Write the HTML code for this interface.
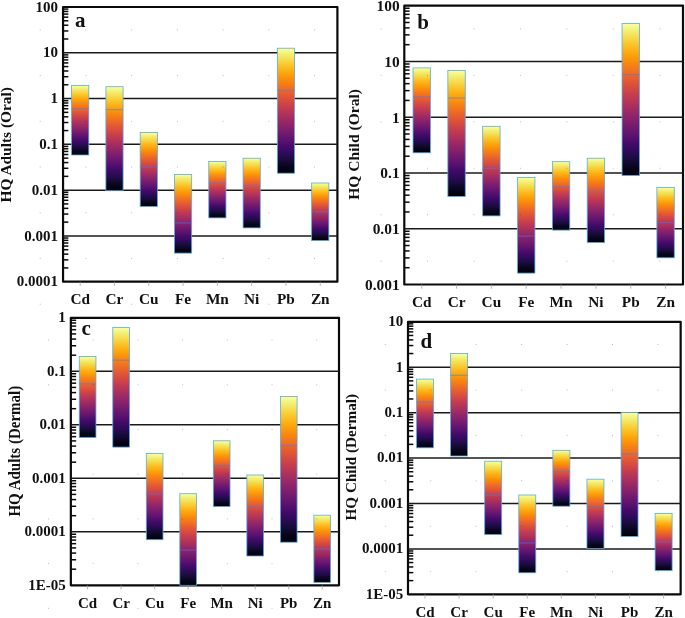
<!DOCTYPE html>
<html><head><meta charset="utf-8"><title>HQ charts</title>
<style>html,body{margin:0;padding:0;background:#fff}svg{display:block;filter:blur(0.38px)}text{font-family:"Liberation Serif","Times New Roman",serif;font-weight:bold;fill:#111}</style></head><body>
<svg width="685" height="618" viewBox="0 0 685 618">
<defs><linearGradient id="inf" x1="0" y1="0" x2="0" y2="1">
<stop offset="0.0000" stop-color="#fcffa4"/>
<stop offset="0.0526" stop-color="#f1ed71"/>
<stop offset="0.1053" stop-color="#f6d543"/>
<stop offset="0.1579" stop-color="#fbba1f"/>
<stop offset="0.2105" stop-color="#fca108"/>
<stop offset="0.2632" stop-color="#f8870e"/>
<stop offset="0.3158" stop-color="#f1711f"/>
<stop offset="0.3684" stop-color="#e55c30"/>
<stop offset="0.4211" stop-color="#d74b3f"/>
<stop offset="0.4737" stop-color="#c43c4e"/>
<stop offset="0.5263" stop-color="#b1325a"/>
<stop offset="0.5789" stop-color="#9b2964"/>
<stop offset="0.6316" stop-color="#87216b"/>
<stop offset="0.6842" stop-color="#71196e"/>
<stop offset="0.7368" stop-color="#5c126e"/>
<stop offset="0.7895" stop-color="#450a69"/>
<stop offset="0.8421" stop-color="#2f0a5b"/>
<stop offset="0.8947" stop-color="#180c3c"/>
<stop offset="0.9474" stop-color="#08051d"/>
<stop offset="1.0000" stop-color="#000004"/>
</linearGradient></defs>
<rect width="685" height="618" fill="#fff"/>
<g><rect x="63.05" y="7.0" width="274.35" height="274.70" fill="none" stroke="#0a0a0a" stroke-width="2.2" stroke-linejoin="round"/>
<line x1="63.05" y1="52.78" x2="337.4" y2="52.78" stroke="#1a1a1a" stroke-width="1.5"/>
<line x1="63.05" y1="98.57" x2="337.4" y2="98.57" stroke="#1a1a1a" stroke-width="1.5"/>
<line x1="63.05" y1="144.35" x2="337.4" y2="144.35" stroke="#1a1a1a" stroke-width="1.5"/>
<line x1="63.05" y1="190.13" x2="337.4" y2="190.13" stroke="#1a1a1a" stroke-width="1.5"/>
<line x1="63.05" y1="235.92" x2="337.4" y2="235.92" stroke="#1a1a1a" stroke-width="1.5"/>
<line x1="63.05" y1="39.00" x2="68.35" y2="39.00" stroke="#0a0a0a" stroke-width="1.5"/>
<line x1="63.05" y1="30.94" x2="68.35" y2="30.94" stroke="#0a0a0a" stroke-width="1.5"/>
<line x1="63.05" y1="25.22" x2="68.35" y2="25.22" stroke="#0a0a0a" stroke-width="1.5"/>
<line x1="63.05" y1="20.78" x2="68.35" y2="20.78" stroke="#0a0a0a" stroke-width="1.5"/>
<line x1="63.05" y1="17.16" x2="68.35" y2="17.16" stroke="#0a0a0a" stroke-width="1.5"/>
<line x1="63.05" y1="14.09" x2="68.35" y2="14.09" stroke="#0a0a0a" stroke-width="1.5"/>
<line x1="63.05" y1="11.44" x2="68.35" y2="11.44" stroke="#0a0a0a" stroke-width="1.5"/>
<line x1="63.05" y1="9.09" x2="68.35" y2="9.09" stroke="#0a0a0a" stroke-width="1.5"/>
<line x1="63.05" y1="84.78" x2="68.35" y2="84.78" stroke="#0a0a0a" stroke-width="1.5"/>
<line x1="63.05" y1="76.72" x2="68.35" y2="76.72" stroke="#0a0a0a" stroke-width="1.5"/>
<line x1="63.05" y1="71.00" x2="68.35" y2="71.00" stroke="#0a0a0a" stroke-width="1.5"/>
<line x1="63.05" y1="66.57" x2="68.35" y2="66.57" stroke="#0a0a0a" stroke-width="1.5"/>
<line x1="63.05" y1="62.94" x2="68.35" y2="62.94" stroke="#0a0a0a" stroke-width="1.5"/>
<line x1="63.05" y1="59.88" x2="68.35" y2="59.88" stroke="#0a0a0a" stroke-width="1.5"/>
<line x1="63.05" y1="57.22" x2="68.35" y2="57.22" stroke="#0a0a0a" stroke-width="1.5"/>
<line x1="63.05" y1="54.88" x2="68.35" y2="54.88" stroke="#0a0a0a" stroke-width="1.5"/>
<line x1="63.05" y1="130.57" x2="68.35" y2="130.57" stroke="#0a0a0a" stroke-width="1.5"/>
<line x1="63.05" y1="122.51" x2="68.35" y2="122.51" stroke="#0a0a0a" stroke-width="1.5"/>
<line x1="63.05" y1="116.79" x2="68.35" y2="116.79" stroke="#0a0a0a" stroke-width="1.5"/>
<line x1="63.05" y1="112.35" x2="68.35" y2="112.35" stroke="#0a0a0a" stroke-width="1.5"/>
<line x1="63.05" y1="108.72" x2="68.35" y2="108.72" stroke="#0a0a0a" stroke-width="1.5"/>
<line x1="63.05" y1="105.66" x2="68.35" y2="105.66" stroke="#0a0a0a" stroke-width="1.5"/>
<line x1="63.05" y1="103.00" x2="68.35" y2="103.00" stroke="#0a0a0a" stroke-width="1.5"/>
<line x1="63.05" y1="100.66" x2="68.35" y2="100.66" stroke="#0a0a0a" stroke-width="1.5"/>
<line x1="63.05" y1="176.35" x2="68.35" y2="176.35" stroke="#0a0a0a" stroke-width="1.5"/>
<line x1="63.05" y1="168.29" x2="68.35" y2="168.29" stroke="#0a0a0a" stroke-width="1.5"/>
<line x1="63.05" y1="162.57" x2="68.35" y2="162.57" stroke="#0a0a0a" stroke-width="1.5"/>
<line x1="63.05" y1="158.13" x2="68.35" y2="158.13" stroke="#0a0a0a" stroke-width="1.5"/>
<line x1="63.05" y1="154.51" x2="68.35" y2="154.51" stroke="#0a0a0a" stroke-width="1.5"/>
<line x1="63.05" y1="151.44" x2="68.35" y2="151.44" stroke="#0a0a0a" stroke-width="1.5"/>
<line x1="63.05" y1="148.79" x2="68.35" y2="148.79" stroke="#0a0a0a" stroke-width="1.5"/>
<line x1="63.05" y1="146.44" x2="68.35" y2="146.44" stroke="#0a0a0a" stroke-width="1.5"/>
<line x1="63.05" y1="222.13" x2="68.35" y2="222.13" stroke="#0a0a0a" stroke-width="1.5"/>
<line x1="63.05" y1="214.07" x2="68.35" y2="214.07" stroke="#0a0a0a" stroke-width="1.5"/>
<line x1="63.05" y1="208.35" x2="68.35" y2="208.35" stroke="#0a0a0a" stroke-width="1.5"/>
<line x1="63.05" y1="203.92" x2="68.35" y2="203.92" stroke="#0a0a0a" stroke-width="1.5"/>
<line x1="63.05" y1="200.29" x2="68.35" y2="200.29" stroke="#0a0a0a" stroke-width="1.5"/>
<line x1="63.05" y1="197.23" x2="68.35" y2="197.23" stroke="#0a0a0a" stroke-width="1.5"/>
<line x1="63.05" y1="194.57" x2="68.35" y2="194.57" stroke="#0a0a0a" stroke-width="1.5"/>
<line x1="63.05" y1="192.23" x2="68.35" y2="192.23" stroke="#0a0a0a" stroke-width="1.5"/>
<line x1="63.05" y1="267.92" x2="68.35" y2="267.92" stroke="#0a0a0a" stroke-width="1.5"/>
<line x1="63.05" y1="259.86" x2="68.35" y2="259.86" stroke="#0a0a0a" stroke-width="1.5"/>
<line x1="63.05" y1="254.14" x2="68.35" y2="254.14" stroke="#0a0a0a" stroke-width="1.5"/>
<line x1="63.05" y1="249.70" x2="68.35" y2="249.70" stroke="#0a0a0a" stroke-width="1.5"/>
<line x1="63.05" y1="246.07" x2="68.35" y2="246.07" stroke="#0a0a0a" stroke-width="1.5"/>
<line x1="63.05" y1="243.01" x2="68.35" y2="243.01" stroke="#0a0a0a" stroke-width="1.5"/>
<line x1="63.05" y1="240.35" x2="68.35" y2="240.35" stroke="#0a0a0a" stroke-width="1.5"/>
<line x1="63.05" y1="238.01" x2="68.35" y2="238.01" stroke="#0a0a0a" stroke-width="1.5"/>
<rect x="71.60" y="85.50" width="17.20" height="69.50" fill="url(#inf)" stroke="#5aa9e6" stroke-width="0.8"/>
<line x1="71.60" y1="108.60" x2="88.80" y2="108.60" stroke="#437bf6" stroke-opacity="0.5" stroke-width="1.2"/>
<line x1="80.20" y1="281.7" x2="80.20" y2="285.9" stroke="#999" stroke-width="0.7"/>
<text x="80.20" y="304.1" font-size="15.3" text-anchor="middle">Cd</text>
<rect x="105.89" y="86.70" width="17.20" height="104.00" fill="url(#inf)" stroke="#5aa9e6" stroke-width="0.8"/>
<line x1="105.89" y1="109.60" x2="123.09" y2="109.60" stroke="#437bf6" stroke-opacity="0.5" stroke-width="1.2"/>
<line x1="114.49" y1="281.7" x2="114.49" y2="285.9" stroke="#999" stroke-width="0.7"/>
<text x="114.49" y="304.1" font-size="15.3" text-anchor="middle">Cr</text>
<rect x="140.18" y="132.50" width="17.20" height="74.00" fill="url(#inf)" stroke="#5aa9e6" stroke-width="0.8"/>
<line x1="140.18" y1="167.00" x2="157.38" y2="167.00" stroke="#437bf6" stroke-opacity="0.5" stroke-width="1.2"/>
<line x1="148.78" y1="281.7" x2="148.78" y2="285.9" stroke="#999" stroke-width="0.7"/>
<text x="148.78" y="304.1" font-size="15.3" text-anchor="middle">Cu</text>
<rect x="174.48" y="174.50" width="17.20" height="78.60" fill="url(#inf)" stroke="#5aa9e6" stroke-width="0.8"/>
<line x1="174.48" y1="222.90" x2="191.68" y2="222.90" stroke="#437bf6" stroke-opacity="0.5" stroke-width="1.2"/>
<line x1="183.08" y1="281.7" x2="183.08" y2="285.9" stroke="#999" stroke-width="0.7"/>
<text x="183.08" y="304.1" font-size="15.3" text-anchor="middle">Fe</text>
<rect x="208.77" y="161.50" width="17.20" height="56.40" fill="url(#inf)" stroke="#5aa9e6" stroke-width="0.8"/>
<line x1="208.77" y1="183.20" x2="225.97" y2="183.20" stroke="#437bf6" stroke-opacity="0.5" stroke-width="1.2"/>
<line x1="217.37" y1="281.7" x2="217.37" y2="285.9" stroke="#999" stroke-width="0.7"/>
<text x="217.37" y="304.1" font-size="15.3" text-anchor="middle">Mn</text>
<rect x="243.07" y="158.20" width="17.20" height="69.70" fill="url(#inf)" stroke="#5aa9e6" stroke-width="0.8"/>
<line x1="243.07" y1="186.20" x2="260.27" y2="186.20" stroke="#437bf6" stroke-opacity="0.5" stroke-width="1.2"/>
<line x1="251.67" y1="281.7" x2="251.67" y2="285.9" stroke="#999" stroke-width="0.7"/>
<text x="251.67" y="304.1" font-size="15.3" text-anchor="middle">Ni</text>
<rect x="277.36" y="48.20" width="17.20" height="125.00" fill="url(#inf)" stroke="#5aa9e6" stroke-width="0.8"/>
<line x1="277.36" y1="90.40" x2="294.56" y2="90.40" stroke="#437bf6" stroke-opacity="0.5" stroke-width="1.2"/>
<line x1="285.96" y1="281.7" x2="285.96" y2="285.9" stroke="#999" stroke-width="0.7"/>
<text x="285.96" y="304.1" font-size="15.3" text-anchor="middle">Pb</text>
<rect x="311.65" y="183.00" width="17.20" height="57.60" fill="url(#inf)" stroke="#5aa9e6" stroke-width="0.8"/>
<line x1="311.65" y1="211.90" x2="328.85" y2="211.90" stroke="#437bf6" stroke-opacity="0.5" stroke-width="1.2"/>
<line x1="320.25" y1="281.7" x2="320.25" y2="285.9" stroke="#999" stroke-width="0.7"/>
<text x="320.25" y="304.1" font-size="15.3" text-anchor="middle">Zn</text>
<rect x="39.7" y="29.4" width="1" height="1" fill="#000" fill-opacity="0.27"/>
<rect x="39.7" y="75.1" width="1" height="1" fill="#000" fill-opacity="0.27"/>
<rect x="39.7" y="120.8" width="1" height="1" fill="#000" fill-opacity="0.27"/>
<rect x="39.7" y="166.5" width="1" height="1" fill="#000" fill-opacity="0.27"/>
<rect x="39.7" y="212.3" width="1" height="1" fill="#000" fill-opacity="0.27"/>
<rect x="39.7" y="258.0" width="1" height="1" fill="#000" fill-opacity="0.27"/>
<rect x="39.7" y="303.7" width="1" height="1" fill="#000" fill-opacity="0.27"/>
<rect x="85.4" y="29.4" width="1" height="1" fill="#000" fill-opacity="0.27"/>
<rect x="85.4" y="75.1" width="1" height="1" fill="#000" fill-opacity="0.27"/>
<rect x="85.4" y="120.8" width="1" height="1" fill="#000" fill-opacity="0.27"/>
<rect x="85.4" y="166.5" width="1" height="1" fill="#000" fill-opacity="0.27"/>
<rect x="85.4" y="212.3" width="1" height="1" fill="#000" fill-opacity="0.27"/>
<rect x="85.4" y="258.0" width="1" height="1" fill="#000" fill-opacity="0.27"/>
<rect x="85.4" y="303.7" width="1" height="1" fill="#000" fill-opacity="0.27"/>
<rect x="131.1" y="29.4" width="1" height="1" fill="#000" fill-opacity="0.27"/>
<rect x="131.1" y="75.1" width="1" height="1" fill="#000" fill-opacity="0.27"/>
<rect x="131.1" y="120.8" width="1" height="1" fill="#000" fill-opacity="0.27"/>
<rect x="131.1" y="166.5" width="1" height="1" fill="#000" fill-opacity="0.27"/>
<rect x="131.1" y="212.3" width="1" height="1" fill="#000" fill-opacity="0.27"/>
<rect x="131.1" y="258.0" width="1" height="1" fill="#000" fill-opacity="0.27"/>
<rect x="131.1" y="303.7" width="1" height="1" fill="#000" fill-opacity="0.27"/>
<rect x="176.9" y="29.4" width="1" height="1" fill="#000" fill-opacity="0.27"/>
<rect x="176.9" y="75.1" width="1" height="1" fill="#000" fill-opacity="0.27"/>
<rect x="176.9" y="120.8" width="1" height="1" fill="#000" fill-opacity="0.27"/>
<rect x="176.9" y="166.5" width="1" height="1" fill="#000" fill-opacity="0.27"/>
<rect x="176.9" y="212.3" width="1" height="1" fill="#000" fill-opacity="0.27"/>
<rect x="176.9" y="258.0" width="1" height="1" fill="#000" fill-opacity="0.27"/>
<rect x="176.9" y="303.7" width="1" height="1" fill="#000" fill-opacity="0.27"/>
<rect x="222.6" y="29.4" width="1" height="1" fill="#000" fill-opacity="0.27"/>
<rect x="222.6" y="75.1" width="1" height="1" fill="#000" fill-opacity="0.27"/>
<rect x="222.6" y="120.8" width="1" height="1" fill="#000" fill-opacity="0.27"/>
<rect x="222.6" y="166.5" width="1" height="1" fill="#000" fill-opacity="0.27"/>
<rect x="222.6" y="212.3" width="1" height="1" fill="#000" fill-opacity="0.27"/>
<rect x="222.6" y="258.0" width="1" height="1" fill="#000" fill-opacity="0.27"/>
<rect x="222.6" y="303.7" width="1" height="1" fill="#000" fill-opacity="0.27"/>
<rect x="268.3" y="29.4" width="1" height="1" fill="#000" fill-opacity="0.27"/>
<rect x="268.3" y="75.1" width="1" height="1" fill="#000" fill-opacity="0.27"/>
<rect x="268.3" y="120.8" width="1" height="1" fill="#000" fill-opacity="0.27"/>
<rect x="268.3" y="166.5" width="1" height="1" fill="#000" fill-opacity="0.27"/>
<rect x="268.3" y="212.3" width="1" height="1" fill="#000" fill-opacity="0.27"/>
<rect x="268.3" y="258.0" width="1" height="1" fill="#000" fill-opacity="0.27"/>
<rect x="268.3" y="303.7" width="1" height="1" fill="#000" fill-opacity="0.27"/>
<rect x="314.0" y="29.4" width="1" height="1" fill="#000" fill-opacity="0.27"/>
<rect x="314.0" y="75.1" width="1" height="1" fill="#000" fill-opacity="0.27"/>
<rect x="314.0" y="120.8" width="1" height="1" fill="#000" fill-opacity="0.27"/>
<rect x="314.0" y="166.5" width="1" height="1" fill="#000" fill-opacity="0.27"/>
<rect x="314.0" y="212.3" width="1" height="1" fill="#000" fill-opacity="0.27"/>
<rect x="314.0" y="258.0" width="1" height="1" fill="#000" fill-opacity="0.27"/>
<rect x="314.0" y="303.7" width="1" height="1" fill="#000" fill-opacity="0.27"/>
<text x="58" y="11.60" font-size="15" text-anchor="end">100</text>
<text x="58" y="57.38" font-size="15" text-anchor="end">10</text>
<text x="58" y="103.17" font-size="15" text-anchor="end">1</text>
<text x="58" y="148.95" font-size="15" text-anchor="end">0.1</text>
<text x="58" y="194.73" font-size="15" text-anchor="end">0.01</text>
<text x="58" y="240.52" font-size="15" text-anchor="end">0.001</text>
<text x="58" y="286.30" font-size="15" text-anchor="end">0.0001</text>
<text x="74.9" y="26.9" font-size="21">a</text>
<text transform="translate(11.4,144.8) rotate(-90) scale(1,1)" font-size="15.4" text-anchor="middle">HQ Adults (Oral)</text></g>
<g><rect x="404.3" y="5.7" width="278.70" height="278.80" fill="none" stroke="#0a0a0a" stroke-width="2.2" stroke-linejoin="round"/>
<line x1="404.3" y1="61.46" x2="683.0" y2="61.46" stroke="#1a1a1a" stroke-width="1.5"/>
<line x1="404.3" y1="117.22" x2="683.0" y2="117.22" stroke="#1a1a1a" stroke-width="1.5"/>
<line x1="404.3" y1="172.98" x2="683.0" y2="172.98" stroke="#1a1a1a" stroke-width="1.5"/>
<line x1="404.3" y1="228.74" x2="683.0" y2="228.74" stroke="#1a1a1a" stroke-width="1.5"/>
<line x1="404.3" y1="44.67" x2="409.6" y2="44.67" stroke="#0a0a0a" stroke-width="1.5"/>
<line x1="404.3" y1="34.86" x2="409.6" y2="34.86" stroke="#0a0a0a" stroke-width="1.5"/>
<line x1="404.3" y1="27.89" x2="409.6" y2="27.89" stroke="#0a0a0a" stroke-width="1.5"/>
<line x1="404.3" y1="22.49" x2="409.6" y2="22.49" stroke="#0a0a0a" stroke-width="1.5"/>
<line x1="404.3" y1="18.07" x2="409.6" y2="18.07" stroke="#0a0a0a" stroke-width="1.5"/>
<line x1="404.3" y1="14.34" x2="409.6" y2="14.34" stroke="#0a0a0a" stroke-width="1.5"/>
<line x1="404.3" y1="11.10" x2="409.6" y2="11.10" stroke="#0a0a0a" stroke-width="1.5"/>
<line x1="404.3" y1="8.25" x2="409.6" y2="8.25" stroke="#0a0a0a" stroke-width="1.5"/>
<line x1="404.3" y1="100.43" x2="409.6" y2="100.43" stroke="#0a0a0a" stroke-width="1.5"/>
<line x1="404.3" y1="90.62" x2="409.6" y2="90.62" stroke="#0a0a0a" stroke-width="1.5"/>
<line x1="404.3" y1="83.65" x2="409.6" y2="83.65" stroke="#0a0a0a" stroke-width="1.5"/>
<line x1="404.3" y1="78.25" x2="409.6" y2="78.25" stroke="#0a0a0a" stroke-width="1.5"/>
<line x1="404.3" y1="73.83" x2="409.6" y2="73.83" stroke="#0a0a0a" stroke-width="1.5"/>
<line x1="404.3" y1="70.10" x2="409.6" y2="70.10" stroke="#0a0a0a" stroke-width="1.5"/>
<line x1="404.3" y1="66.86" x2="409.6" y2="66.86" stroke="#0a0a0a" stroke-width="1.5"/>
<line x1="404.3" y1="64.01" x2="409.6" y2="64.01" stroke="#0a0a0a" stroke-width="1.5"/>
<line x1="404.3" y1="156.19" x2="409.6" y2="156.19" stroke="#0a0a0a" stroke-width="1.5"/>
<line x1="404.3" y1="146.38" x2="409.6" y2="146.38" stroke="#0a0a0a" stroke-width="1.5"/>
<line x1="404.3" y1="139.41" x2="409.6" y2="139.41" stroke="#0a0a0a" stroke-width="1.5"/>
<line x1="404.3" y1="134.01" x2="409.6" y2="134.01" stroke="#0a0a0a" stroke-width="1.5"/>
<line x1="404.3" y1="129.59" x2="409.6" y2="129.59" stroke="#0a0a0a" stroke-width="1.5"/>
<line x1="404.3" y1="125.86" x2="409.6" y2="125.86" stroke="#0a0a0a" stroke-width="1.5"/>
<line x1="404.3" y1="122.62" x2="409.6" y2="122.62" stroke="#0a0a0a" stroke-width="1.5"/>
<line x1="404.3" y1="119.77" x2="409.6" y2="119.77" stroke="#0a0a0a" stroke-width="1.5"/>
<line x1="404.3" y1="211.95" x2="409.6" y2="211.95" stroke="#0a0a0a" stroke-width="1.5"/>
<line x1="404.3" y1="202.14" x2="409.6" y2="202.14" stroke="#0a0a0a" stroke-width="1.5"/>
<line x1="404.3" y1="195.17" x2="409.6" y2="195.17" stroke="#0a0a0a" stroke-width="1.5"/>
<line x1="404.3" y1="189.77" x2="409.6" y2="189.77" stroke="#0a0a0a" stroke-width="1.5"/>
<line x1="404.3" y1="185.35" x2="409.6" y2="185.35" stroke="#0a0a0a" stroke-width="1.5"/>
<line x1="404.3" y1="181.62" x2="409.6" y2="181.62" stroke="#0a0a0a" stroke-width="1.5"/>
<line x1="404.3" y1="178.38" x2="409.6" y2="178.38" stroke="#0a0a0a" stroke-width="1.5"/>
<line x1="404.3" y1="175.53" x2="409.6" y2="175.53" stroke="#0a0a0a" stroke-width="1.5"/>
<line x1="404.3" y1="267.71" x2="409.6" y2="267.71" stroke="#0a0a0a" stroke-width="1.5"/>
<line x1="404.3" y1="257.90" x2="409.6" y2="257.90" stroke="#0a0a0a" stroke-width="1.5"/>
<line x1="404.3" y1="250.93" x2="409.6" y2="250.93" stroke="#0a0a0a" stroke-width="1.5"/>
<line x1="404.3" y1="245.53" x2="409.6" y2="245.53" stroke="#0a0a0a" stroke-width="1.5"/>
<line x1="404.3" y1="241.11" x2="409.6" y2="241.11" stroke="#0a0a0a" stroke-width="1.5"/>
<line x1="404.3" y1="237.38" x2="409.6" y2="237.38" stroke="#0a0a0a" stroke-width="1.5"/>
<line x1="404.3" y1="234.14" x2="409.6" y2="234.14" stroke="#0a0a0a" stroke-width="1.5"/>
<line x1="404.3" y1="231.29" x2="409.6" y2="231.29" stroke="#0a0a0a" stroke-width="1.5"/>
<rect x="413.02" y="67.90" width="17.40" height="84.90" fill="url(#inf)" stroke="#5aa9e6" stroke-width="0.8"/>
<line x1="413.02" y1="96.90" x2="430.42" y2="96.90" stroke="#437bf6" stroke-opacity="0.5" stroke-width="1.2"/>
<line x1="421.72" y1="284.5" x2="421.72" y2="288.7" stroke="#999" stroke-width="0.7"/>
<text x="421.72" y="307.0" font-size="15.3" text-anchor="middle">Cd</text>
<rect x="447.86" y="70.40" width="17.40" height="126.00" fill="url(#inf)" stroke="#5aa9e6" stroke-width="0.8"/>
<line x1="447.86" y1="98.10" x2="465.26" y2="98.10" stroke="#437bf6" stroke-opacity="0.5" stroke-width="1.2"/>
<line x1="456.56" y1="284.5" x2="456.56" y2="288.7" stroke="#999" stroke-width="0.7"/>
<text x="456.56" y="307.0" font-size="15.3" text-anchor="middle">Cr</text>
<rect x="482.69" y="126.30" width="17.40" height="89.60" fill="url(#inf)" stroke="#5aa9e6" stroke-width="0.8"/>
<line x1="482.69" y1="168.20" x2="500.09" y2="168.20" stroke="#437bf6" stroke-opacity="0.5" stroke-width="1.2"/>
<line x1="491.39" y1="284.5" x2="491.39" y2="288.7" stroke="#999" stroke-width="0.7"/>
<text x="491.39" y="307.0" font-size="15.3" text-anchor="middle">Cu</text>
<rect x="517.53" y="177.50" width="17.40" height="95.60" fill="url(#inf)" stroke="#5aa9e6" stroke-width="0.8"/>
<line x1="517.53" y1="236.10" x2="534.93" y2="236.10" stroke="#437bf6" stroke-opacity="0.5" stroke-width="1.2"/>
<line x1="526.23" y1="284.5" x2="526.23" y2="288.7" stroke="#999" stroke-width="0.7"/>
<text x="526.23" y="307.0" font-size="15.3" text-anchor="middle">Fe</text>
<rect x="552.37" y="161.70" width="17.40" height="68.40" fill="url(#inf)" stroke="#5aa9e6" stroke-width="0.8"/>
<line x1="552.37" y1="187.20" x2="569.77" y2="187.20" stroke="#437bf6" stroke-opacity="0.5" stroke-width="1.2"/>
<line x1="561.07" y1="284.5" x2="561.07" y2="288.7" stroke="#999" stroke-width="0.7"/>
<text x="561.07" y="307.0" font-size="15.3" text-anchor="middle">Mn</text>
<rect x="587.21" y="158.20" width="17.40" height="84.40" fill="url(#inf)" stroke="#5aa9e6" stroke-width="0.8"/>
<line x1="587.21" y1="191.90" x2="604.61" y2="191.90" stroke="#437bf6" stroke-opacity="0.5" stroke-width="1.2"/>
<line x1="595.91" y1="284.5" x2="595.91" y2="288.7" stroke="#999" stroke-width="0.7"/>
<text x="595.91" y="307.0" font-size="15.3" text-anchor="middle">Ni</text>
<rect x="622.04" y="23.50" width="17.40" height="152.00" fill="url(#inf)" stroke="#5aa9e6" stroke-width="0.8"/>
<line x1="622.04" y1="74.60" x2="639.44" y2="74.60" stroke="#437bf6" stroke-opacity="0.5" stroke-width="1.2"/>
<line x1="630.74" y1="284.5" x2="630.74" y2="288.7" stroke="#999" stroke-width="0.7"/>
<text x="630.74" y="307.0" font-size="15.3" text-anchor="middle">Pb</text>
<rect x="656.88" y="187.40" width="17.40" height="70.40" fill="url(#inf)" stroke="#5aa9e6" stroke-width="0.8"/>
<line x1="656.88" y1="222.60" x2="674.28" y2="222.60" stroke="#437bf6" stroke-opacity="0.5" stroke-width="1.2"/>
<line x1="665.58" y1="284.5" x2="665.58" y2="288.7" stroke="#999" stroke-width="0.7"/>
<text x="665.58" y="307.0" font-size="15.3" text-anchor="middle">Zn</text>
<rect x="380.6" y="28.4" width="1" height="1" fill="#000" fill-opacity="0.27"/>
<rect x="380.6" y="74.9" width="1" height="1" fill="#000" fill-opacity="0.27"/>
<rect x="380.6" y="121.3" width="1" height="1" fill="#000" fill-opacity="0.27"/>
<rect x="380.6" y="167.8" width="1" height="1" fill="#000" fill-opacity="0.27"/>
<rect x="380.6" y="214.2" width="1" height="1" fill="#000" fill-opacity="0.27"/>
<rect x="380.6" y="260.7" width="1" height="1" fill="#000" fill-opacity="0.27"/>
<rect x="427.0" y="28.4" width="1" height="1" fill="#000" fill-opacity="0.27"/>
<rect x="427.0" y="74.9" width="1" height="1" fill="#000" fill-opacity="0.27"/>
<rect x="427.0" y="121.3" width="1" height="1" fill="#000" fill-opacity="0.27"/>
<rect x="427.0" y="167.8" width="1" height="1" fill="#000" fill-opacity="0.27"/>
<rect x="427.0" y="214.2" width="1" height="1" fill="#000" fill-opacity="0.27"/>
<rect x="427.0" y="260.7" width="1" height="1" fill="#000" fill-opacity="0.27"/>
<rect x="473.5" y="28.4" width="1" height="1" fill="#000" fill-opacity="0.27"/>
<rect x="473.5" y="74.9" width="1" height="1" fill="#000" fill-opacity="0.27"/>
<rect x="473.5" y="121.3" width="1" height="1" fill="#000" fill-opacity="0.27"/>
<rect x="473.5" y="167.8" width="1" height="1" fill="#000" fill-opacity="0.27"/>
<rect x="473.5" y="214.2" width="1" height="1" fill="#000" fill-opacity="0.27"/>
<rect x="473.5" y="260.7" width="1" height="1" fill="#000" fill-opacity="0.27"/>
<rect x="519.9" y="28.4" width="1" height="1" fill="#000" fill-opacity="0.27"/>
<rect x="519.9" y="74.9" width="1" height="1" fill="#000" fill-opacity="0.27"/>
<rect x="519.9" y="121.3" width="1" height="1" fill="#000" fill-opacity="0.27"/>
<rect x="519.9" y="167.8" width="1" height="1" fill="#000" fill-opacity="0.27"/>
<rect x="519.9" y="214.2" width="1" height="1" fill="#000" fill-opacity="0.27"/>
<rect x="519.9" y="260.7" width="1" height="1" fill="#000" fill-opacity="0.27"/>
<rect x="566.4" y="28.4" width="1" height="1" fill="#000" fill-opacity="0.27"/>
<rect x="566.4" y="74.9" width="1" height="1" fill="#000" fill-opacity="0.27"/>
<rect x="566.4" y="121.3" width="1" height="1" fill="#000" fill-opacity="0.27"/>
<rect x="566.4" y="167.8" width="1" height="1" fill="#000" fill-opacity="0.27"/>
<rect x="566.4" y="214.2" width="1" height="1" fill="#000" fill-opacity="0.27"/>
<rect x="566.4" y="260.7" width="1" height="1" fill="#000" fill-opacity="0.27"/>
<rect x="612.8" y="28.4" width="1" height="1" fill="#000" fill-opacity="0.27"/>
<rect x="612.8" y="74.9" width="1" height="1" fill="#000" fill-opacity="0.27"/>
<rect x="612.8" y="121.3" width="1" height="1" fill="#000" fill-opacity="0.27"/>
<rect x="612.8" y="167.8" width="1" height="1" fill="#000" fill-opacity="0.27"/>
<rect x="612.8" y="214.2" width="1" height="1" fill="#000" fill-opacity="0.27"/>
<rect x="612.8" y="260.7" width="1" height="1" fill="#000" fill-opacity="0.27"/>
<rect x="659.3" y="28.4" width="1" height="1" fill="#000" fill-opacity="0.27"/>
<rect x="659.3" y="74.9" width="1" height="1" fill="#000" fill-opacity="0.27"/>
<rect x="659.3" y="121.3" width="1" height="1" fill="#000" fill-opacity="0.27"/>
<rect x="659.3" y="167.8" width="1" height="1" fill="#000" fill-opacity="0.27"/>
<rect x="659.3" y="214.2" width="1" height="1" fill="#000" fill-opacity="0.27"/>
<rect x="659.3" y="260.7" width="1" height="1" fill="#000" fill-opacity="0.27"/>
<text x="399.6" y="11.10" font-size="15.4" text-anchor="end">100</text>
<text x="399.6" y="66.86" font-size="15.4" text-anchor="end">10</text>
<text x="399.6" y="122.62" font-size="15.4" text-anchor="end">1</text>
<text x="399.6" y="178.38" font-size="15.4" text-anchor="end">0.1</text>
<text x="399.6" y="234.14" font-size="15.4" text-anchor="end">0.01</text>
<text x="399.6" y="289.90" font-size="15.4" text-anchor="end">0.001</text>
<text x="417.3" y="28.6" font-size="21">b</text>
<text transform="translate(358.8,144.4) rotate(-90) scale(1,1)" font-size="15.6" text-anchor="middle">HQ Child (Oral)</text></g>
<g><rect x="70.85" y="317.8" width="268.15" height="267.50" fill="none" stroke="#0a0a0a" stroke-width="2.2" stroke-linejoin="round"/>
<line x1="70.85" y1="371.30" x2="339.0" y2="371.30" stroke="#1a1a1a" stroke-width="1.5"/>
<line x1="70.85" y1="424.80" x2="339.0" y2="424.80" stroke="#1a1a1a" stroke-width="1.5"/>
<line x1="70.85" y1="478.30" x2="339.0" y2="478.30" stroke="#1a1a1a" stroke-width="1.5"/>
<line x1="70.85" y1="531.80" x2="339.0" y2="531.80" stroke="#1a1a1a" stroke-width="1.5"/>
<line x1="70.85" y1="355.19" x2="76.14999999999999" y2="355.19" stroke="#0a0a0a" stroke-width="1.5"/>
<line x1="70.85" y1="345.77" x2="76.14999999999999" y2="345.77" stroke="#0a0a0a" stroke-width="1.5"/>
<line x1="70.85" y1="339.09" x2="76.14999999999999" y2="339.09" stroke="#0a0a0a" stroke-width="1.5"/>
<line x1="70.85" y1="333.91" x2="76.14999999999999" y2="333.91" stroke="#0a0a0a" stroke-width="1.5"/>
<line x1="70.85" y1="329.67" x2="76.14999999999999" y2="329.67" stroke="#0a0a0a" stroke-width="1.5"/>
<line x1="70.85" y1="326.09" x2="76.14999999999999" y2="326.09" stroke="#0a0a0a" stroke-width="1.5"/>
<line x1="70.85" y1="322.98" x2="76.14999999999999" y2="322.98" stroke="#0a0a0a" stroke-width="1.5"/>
<line x1="70.85" y1="320.25" x2="76.14999999999999" y2="320.25" stroke="#0a0a0a" stroke-width="1.5"/>
<line x1="70.85" y1="408.69" x2="76.14999999999999" y2="408.69" stroke="#0a0a0a" stroke-width="1.5"/>
<line x1="70.85" y1="399.27" x2="76.14999999999999" y2="399.27" stroke="#0a0a0a" stroke-width="1.5"/>
<line x1="70.85" y1="392.59" x2="76.14999999999999" y2="392.59" stroke="#0a0a0a" stroke-width="1.5"/>
<line x1="70.85" y1="387.41" x2="76.14999999999999" y2="387.41" stroke="#0a0a0a" stroke-width="1.5"/>
<line x1="70.85" y1="383.17" x2="76.14999999999999" y2="383.17" stroke="#0a0a0a" stroke-width="1.5"/>
<line x1="70.85" y1="379.59" x2="76.14999999999999" y2="379.59" stroke="#0a0a0a" stroke-width="1.5"/>
<line x1="70.85" y1="376.48" x2="76.14999999999999" y2="376.48" stroke="#0a0a0a" stroke-width="1.5"/>
<line x1="70.85" y1="373.75" x2="76.14999999999999" y2="373.75" stroke="#0a0a0a" stroke-width="1.5"/>
<line x1="70.85" y1="462.19" x2="76.14999999999999" y2="462.19" stroke="#0a0a0a" stroke-width="1.5"/>
<line x1="70.85" y1="452.77" x2="76.14999999999999" y2="452.77" stroke="#0a0a0a" stroke-width="1.5"/>
<line x1="70.85" y1="446.09" x2="76.14999999999999" y2="446.09" stroke="#0a0a0a" stroke-width="1.5"/>
<line x1="70.85" y1="440.91" x2="76.14999999999999" y2="440.91" stroke="#0a0a0a" stroke-width="1.5"/>
<line x1="70.85" y1="436.67" x2="76.14999999999999" y2="436.67" stroke="#0a0a0a" stroke-width="1.5"/>
<line x1="70.85" y1="433.09" x2="76.14999999999999" y2="433.09" stroke="#0a0a0a" stroke-width="1.5"/>
<line x1="70.85" y1="429.98" x2="76.14999999999999" y2="429.98" stroke="#0a0a0a" stroke-width="1.5"/>
<line x1="70.85" y1="427.25" x2="76.14999999999999" y2="427.25" stroke="#0a0a0a" stroke-width="1.5"/>
<line x1="70.85" y1="515.69" x2="76.14999999999999" y2="515.69" stroke="#0a0a0a" stroke-width="1.5"/>
<line x1="70.85" y1="506.27" x2="76.14999999999999" y2="506.27" stroke="#0a0a0a" stroke-width="1.5"/>
<line x1="70.85" y1="499.59" x2="76.14999999999999" y2="499.59" stroke="#0a0a0a" stroke-width="1.5"/>
<line x1="70.85" y1="494.41" x2="76.14999999999999" y2="494.41" stroke="#0a0a0a" stroke-width="1.5"/>
<line x1="70.85" y1="490.17" x2="76.14999999999999" y2="490.17" stroke="#0a0a0a" stroke-width="1.5"/>
<line x1="70.85" y1="486.59" x2="76.14999999999999" y2="486.59" stroke="#0a0a0a" stroke-width="1.5"/>
<line x1="70.85" y1="483.48" x2="76.14999999999999" y2="483.48" stroke="#0a0a0a" stroke-width="1.5"/>
<line x1="70.85" y1="480.75" x2="76.14999999999999" y2="480.75" stroke="#0a0a0a" stroke-width="1.5"/>
<line x1="70.85" y1="569.19" x2="76.14999999999999" y2="569.19" stroke="#0a0a0a" stroke-width="1.5"/>
<line x1="70.85" y1="559.77" x2="76.14999999999999" y2="559.77" stroke="#0a0a0a" stroke-width="1.5"/>
<line x1="70.85" y1="553.09" x2="76.14999999999999" y2="553.09" stroke="#0a0a0a" stroke-width="1.5"/>
<line x1="70.85" y1="547.91" x2="76.14999999999999" y2="547.91" stroke="#0a0a0a" stroke-width="1.5"/>
<line x1="70.85" y1="543.67" x2="76.14999999999999" y2="543.67" stroke="#0a0a0a" stroke-width="1.5"/>
<line x1="70.85" y1="540.09" x2="76.14999999999999" y2="540.09" stroke="#0a0a0a" stroke-width="1.5"/>
<line x1="70.85" y1="536.98" x2="76.14999999999999" y2="536.98" stroke="#0a0a0a" stroke-width="1.5"/>
<line x1="70.85" y1="534.25" x2="76.14999999999999" y2="534.25" stroke="#0a0a0a" stroke-width="1.5"/>
<rect x="79.26" y="356.40" width="16.70" height="81.20" fill="url(#inf)" stroke="#5aa9e6" stroke-width="0.8"/>
<line x1="79.26" y1="383.90" x2="95.96" y2="383.90" stroke="#437bf6" stroke-opacity="0.5" stroke-width="1.2"/>
<line x1="87.61" y1="585.3" x2="87.61" y2="589.5" stroke="#999" stroke-width="0.7"/>
<text x="87.61" y="607.6" font-size="15.0" text-anchor="middle">Cd</text>
<rect x="112.78" y="327.50" width="16.70" height="119.60" fill="url(#inf)" stroke="#5aa9e6" stroke-width="0.8"/>
<line x1="112.78" y1="360.20" x2="129.48" y2="360.20" stroke="#437bf6" stroke-opacity="0.5" stroke-width="1.2"/>
<line x1="121.13" y1="585.3" x2="121.13" y2="589.5" stroke="#999" stroke-width="0.7"/>
<text x="121.13" y="607.6" font-size="15.0" text-anchor="middle">Cr</text>
<rect x="146.30" y="453.50" width="16.70" height="86.20" fill="url(#inf)" stroke="#5aa9e6" stroke-width="0.8"/>
<line x1="146.30" y1="494.20" x2="163.00" y2="494.20" stroke="#437bf6" stroke-opacity="0.5" stroke-width="1.2"/>
<line x1="154.65" y1="585.3" x2="154.65" y2="589.5" stroke="#999" stroke-width="0.7"/>
<text x="154.65" y="607.6" font-size="15.0" text-anchor="middle">Cu</text>
<rect x="179.82" y="493.70" width="16.70" height="91.60" fill="url(#inf)" stroke="#5aa9e6" stroke-width="0.8"/>
<line x1="179.82" y1="550.10" x2="196.52" y2="550.10" stroke="#437bf6" stroke-opacity="0.5" stroke-width="1.2"/>
<line x1="188.17" y1="585.3" x2="188.17" y2="589.5" stroke="#999" stroke-width="0.7"/>
<text x="188.17" y="607.6" font-size="15.0" text-anchor="middle">Fe</text>
<rect x="213.33" y="440.80" width="16.70" height="65.80" fill="url(#inf)" stroke="#5aa9e6" stroke-width="0.8"/>
<line x1="213.33" y1="465.70" x2="230.03" y2="465.70" stroke="#437bf6" stroke-opacity="0.5" stroke-width="1.2"/>
<line x1="221.68" y1="585.3" x2="221.68" y2="589.5" stroke="#999" stroke-width="0.7"/>
<text x="221.68" y="607.6" font-size="15.0" text-anchor="middle">Mn</text>
<rect x="246.85" y="475.00" width="16.70" height="81.00" fill="url(#inf)" stroke="#5aa9e6" stroke-width="0.8"/>
<line x1="246.85" y1="507.40" x2="263.55" y2="507.40" stroke="#437bf6" stroke-opacity="0.5" stroke-width="1.2"/>
<line x1="255.20" y1="585.3" x2="255.20" y2="589.5" stroke="#999" stroke-width="0.7"/>
<text x="255.20" y="607.6" font-size="15.0" text-anchor="middle">Ni</text>
<rect x="280.37" y="396.40" width="16.70" height="145.80" fill="url(#inf)" stroke="#5aa9e6" stroke-width="0.8"/>
<line x1="280.37" y1="445.50" x2="297.07" y2="445.50" stroke="#437bf6" stroke-opacity="0.5" stroke-width="1.2"/>
<line x1="288.72" y1="585.3" x2="288.72" y2="589.5" stroke="#999" stroke-width="0.7"/>
<text x="288.72" y="607.6" font-size="15.0" text-anchor="middle">Pb</text>
<rect x="313.89" y="515.20" width="16.70" height="67.20" fill="url(#inf)" stroke="#5aa9e6" stroke-width="0.8"/>
<line x1="313.89" y1="548.90" x2="330.59" y2="548.90" stroke="#437bf6" stroke-opacity="0.5" stroke-width="1.2"/>
<line x1="322.24" y1="585.3" x2="322.24" y2="589.5" stroke="#999" stroke-width="0.7"/>
<text x="322.24" y="607.6" font-size="15.0" text-anchor="middle">Zn</text>
<rect x="48.0" y="339.6" width="1" height="1" fill="#000" fill-opacity="0.27"/>
<rect x="48.0" y="384.3" width="1" height="1" fill="#000" fill-opacity="0.27"/>
<rect x="48.0" y="429.0" width="1" height="1" fill="#000" fill-opacity="0.27"/>
<rect x="48.0" y="473.7" width="1" height="1" fill="#000" fill-opacity="0.27"/>
<rect x="48.0" y="518.4" width="1" height="1" fill="#000" fill-opacity="0.27"/>
<rect x="48.0" y="563.1" width="1" height="1" fill="#000" fill-opacity="0.27"/>
<rect x="48.0" y="607.8" width="1" height="1" fill="#000" fill-opacity="0.27"/>
<rect x="92.7" y="339.6" width="1" height="1" fill="#000" fill-opacity="0.27"/>
<rect x="92.7" y="384.3" width="1" height="1" fill="#000" fill-opacity="0.27"/>
<rect x="92.7" y="429.0" width="1" height="1" fill="#000" fill-opacity="0.27"/>
<rect x="92.7" y="473.7" width="1" height="1" fill="#000" fill-opacity="0.27"/>
<rect x="92.7" y="518.4" width="1" height="1" fill="#000" fill-opacity="0.27"/>
<rect x="92.7" y="563.1" width="1" height="1" fill="#000" fill-opacity="0.27"/>
<rect x="92.7" y="607.8" width="1" height="1" fill="#000" fill-opacity="0.27"/>
<rect x="137.4" y="339.6" width="1" height="1" fill="#000" fill-opacity="0.27"/>
<rect x="137.4" y="384.3" width="1" height="1" fill="#000" fill-opacity="0.27"/>
<rect x="137.4" y="429.0" width="1" height="1" fill="#000" fill-opacity="0.27"/>
<rect x="137.4" y="473.7" width="1" height="1" fill="#000" fill-opacity="0.27"/>
<rect x="137.4" y="518.4" width="1" height="1" fill="#000" fill-opacity="0.27"/>
<rect x="137.4" y="563.1" width="1" height="1" fill="#000" fill-opacity="0.27"/>
<rect x="137.4" y="607.8" width="1" height="1" fill="#000" fill-opacity="0.27"/>
<rect x="182.1" y="339.6" width="1" height="1" fill="#000" fill-opacity="0.27"/>
<rect x="182.1" y="384.3" width="1" height="1" fill="#000" fill-opacity="0.27"/>
<rect x="182.1" y="429.0" width="1" height="1" fill="#000" fill-opacity="0.27"/>
<rect x="182.1" y="473.7" width="1" height="1" fill="#000" fill-opacity="0.27"/>
<rect x="182.1" y="518.4" width="1" height="1" fill="#000" fill-opacity="0.27"/>
<rect x="182.1" y="563.1" width="1" height="1" fill="#000" fill-opacity="0.27"/>
<rect x="182.1" y="607.8" width="1" height="1" fill="#000" fill-opacity="0.27"/>
<rect x="226.8" y="339.6" width="1" height="1" fill="#000" fill-opacity="0.27"/>
<rect x="226.8" y="384.3" width="1" height="1" fill="#000" fill-opacity="0.27"/>
<rect x="226.8" y="429.0" width="1" height="1" fill="#000" fill-opacity="0.27"/>
<rect x="226.8" y="473.7" width="1" height="1" fill="#000" fill-opacity="0.27"/>
<rect x="226.8" y="518.4" width="1" height="1" fill="#000" fill-opacity="0.27"/>
<rect x="226.8" y="563.1" width="1" height="1" fill="#000" fill-opacity="0.27"/>
<rect x="226.8" y="607.8" width="1" height="1" fill="#000" fill-opacity="0.27"/>
<rect x="271.5" y="339.6" width="1" height="1" fill="#000" fill-opacity="0.27"/>
<rect x="271.5" y="384.3" width="1" height="1" fill="#000" fill-opacity="0.27"/>
<rect x="271.5" y="429.0" width="1" height="1" fill="#000" fill-opacity="0.27"/>
<rect x="271.5" y="473.7" width="1" height="1" fill="#000" fill-opacity="0.27"/>
<rect x="271.5" y="518.4" width="1" height="1" fill="#000" fill-opacity="0.27"/>
<rect x="271.5" y="563.1" width="1" height="1" fill="#000" fill-opacity="0.27"/>
<rect x="271.5" y="607.8" width="1" height="1" fill="#000" fill-opacity="0.27"/>
<rect x="316.2" y="339.6" width="1" height="1" fill="#000" fill-opacity="0.27"/>
<rect x="316.2" y="384.3" width="1" height="1" fill="#000" fill-opacity="0.27"/>
<rect x="316.2" y="429.0" width="1" height="1" fill="#000" fill-opacity="0.27"/>
<rect x="316.2" y="473.7" width="1" height="1" fill="#000" fill-opacity="0.27"/>
<rect x="316.2" y="518.4" width="1" height="1" fill="#000" fill-opacity="0.27"/>
<rect x="316.2" y="563.1" width="1" height="1" fill="#000" fill-opacity="0.27"/>
<rect x="316.2" y="607.8" width="1" height="1" fill="#000" fill-opacity="0.27"/>
<text x="65.7" y="322.20" font-size="15" text-anchor="end">1</text>
<text x="65.7" y="375.70" font-size="15" text-anchor="end">0.1</text>
<text x="65.7" y="429.20" font-size="15" text-anchor="end">0.01</text>
<text x="65.7" y="482.70" font-size="15" text-anchor="end">0.001</text>
<text x="65.7" y="536.20" font-size="15" text-anchor="end">0.0001</text>
<text x="65.7" y="589.70" font-size="15" text-anchor="end">1E-05</text>
<text x="81.4" y="334.6" font-size="21">c</text>
<text transform="translate(20.4,451.2) rotate(-90) scale(1,1.15)" font-size="15" text-anchor="middle">HQ Adults (Dermal)</text></g>
<g><rect x="408.0" y="321.8" width="272.65" height="272.50" fill="none" stroke="#0a0a0a" stroke-width="2.2" stroke-linejoin="round"/>
<line x1="408.0" y1="367.22" x2="680.65" y2="367.22" stroke="#1a1a1a" stroke-width="1.5"/>
<line x1="408.0" y1="412.63" x2="680.65" y2="412.63" stroke="#1a1a1a" stroke-width="1.5"/>
<line x1="408.0" y1="458.05" x2="680.65" y2="458.05" stroke="#1a1a1a" stroke-width="1.5"/>
<line x1="408.0" y1="503.47" x2="680.65" y2="503.47" stroke="#1a1a1a" stroke-width="1.5"/>
<line x1="408.0" y1="548.88" x2="680.65" y2="548.88" stroke="#1a1a1a" stroke-width="1.5"/>
<line x1="408.0" y1="353.54" x2="413.3" y2="353.54" stroke="#0a0a0a" stroke-width="1.5"/>
<line x1="408.0" y1="345.55" x2="413.3" y2="345.55" stroke="#0a0a0a" stroke-width="1.5"/>
<line x1="408.0" y1="339.87" x2="413.3" y2="339.87" stroke="#0a0a0a" stroke-width="1.5"/>
<line x1="408.0" y1="335.47" x2="413.3" y2="335.47" stroke="#0a0a0a" stroke-width="1.5"/>
<line x1="408.0" y1="331.88" x2="413.3" y2="331.88" stroke="#0a0a0a" stroke-width="1.5"/>
<line x1="408.0" y1="328.84" x2="413.3" y2="328.84" stroke="#0a0a0a" stroke-width="1.5"/>
<line x1="408.0" y1="326.20" x2="413.3" y2="326.20" stroke="#0a0a0a" stroke-width="1.5"/>
<line x1="408.0" y1="323.88" x2="413.3" y2="323.88" stroke="#0a0a0a" stroke-width="1.5"/>
<line x1="408.0" y1="398.96" x2="413.3" y2="398.96" stroke="#0a0a0a" stroke-width="1.5"/>
<line x1="408.0" y1="390.96" x2="413.3" y2="390.96" stroke="#0a0a0a" stroke-width="1.5"/>
<line x1="408.0" y1="385.29" x2="413.3" y2="385.29" stroke="#0a0a0a" stroke-width="1.5"/>
<line x1="408.0" y1="380.89" x2="413.3" y2="380.89" stroke="#0a0a0a" stroke-width="1.5"/>
<line x1="408.0" y1="377.29" x2="413.3" y2="377.29" stroke="#0a0a0a" stroke-width="1.5"/>
<line x1="408.0" y1="374.25" x2="413.3" y2="374.25" stroke="#0a0a0a" stroke-width="1.5"/>
<line x1="408.0" y1="371.62" x2="413.3" y2="371.62" stroke="#0a0a0a" stroke-width="1.5"/>
<line x1="408.0" y1="369.29" x2="413.3" y2="369.29" stroke="#0a0a0a" stroke-width="1.5"/>
<line x1="408.0" y1="444.38" x2="413.3" y2="444.38" stroke="#0a0a0a" stroke-width="1.5"/>
<line x1="408.0" y1="436.38" x2="413.3" y2="436.38" stroke="#0a0a0a" stroke-width="1.5"/>
<line x1="408.0" y1="430.71" x2="413.3" y2="430.71" stroke="#0a0a0a" stroke-width="1.5"/>
<line x1="408.0" y1="426.31" x2="413.3" y2="426.31" stroke="#0a0a0a" stroke-width="1.5"/>
<line x1="408.0" y1="422.71" x2="413.3" y2="422.71" stroke="#0a0a0a" stroke-width="1.5"/>
<line x1="408.0" y1="419.67" x2="413.3" y2="419.67" stroke="#0a0a0a" stroke-width="1.5"/>
<line x1="408.0" y1="417.03" x2="413.3" y2="417.03" stroke="#0a0a0a" stroke-width="1.5"/>
<line x1="408.0" y1="414.71" x2="413.3" y2="414.71" stroke="#0a0a0a" stroke-width="1.5"/>
<line x1="408.0" y1="489.79" x2="413.3" y2="489.79" stroke="#0a0a0a" stroke-width="1.5"/>
<line x1="408.0" y1="481.80" x2="413.3" y2="481.80" stroke="#0a0a0a" stroke-width="1.5"/>
<line x1="408.0" y1="476.12" x2="413.3" y2="476.12" stroke="#0a0a0a" stroke-width="1.5"/>
<line x1="408.0" y1="471.72" x2="413.3" y2="471.72" stroke="#0a0a0a" stroke-width="1.5"/>
<line x1="408.0" y1="468.13" x2="413.3" y2="468.13" stroke="#0a0a0a" stroke-width="1.5"/>
<line x1="408.0" y1="465.09" x2="413.3" y2="465.09" stroke="#0a0a0a" stroke-width="1.5"/>
<line x1="408.0" y1="462.45" x2="413.3" y2="462.45" stroke="#0a0a0a" stroke-width="1.5"/>
<line x1="408.0" y1="460.13" x2="413.3" y2="460.13" stroke="#0a0a0a" stroke-width="1.5"/>
<line x1="408.0" y1="535.21" x2="413.3" y2="535.21" stroke="#0a0a0a" stroke-width="1.5"/>
<line x1="408.0" y1="527.21" x2="413.3" y2="527.21" stroke="#0a0a0a" stroke-width="1.5"/>
<line x1="408.0" y1="521.54" x2="413.3" y2="521.54" stroke="#0a0a0a" stroke-width="1.5"/>
<line x1="408.0" y1="517.14" x2="413.3" y2="517.14" stroke="#0a0a0a" stroke-width="1.5"/>
<line x1="408.0" y1="513.54" x2="413.3" y2="513.54" stroke="#0a0a0a" stroke-width="1.5"/>
<line x1="408.0" y1="510.50" x2="413.3" y2="510.50" stroke="#0a0a0a" stroke-width="1.5"/>
<line x1="408.0" y1="507.87" x2="413.3" y2="507.87" stroke="#0a0a0a" stroke-width="1.5"/>
<line x1="408.0" y1="505.54" x2="413.3" y2="505.54" stroke="#0a0a0a" stroke-width="1.5"/>
<line x1="408.0" y1="580.63" x2="413.3" y2="580.63" stroke="#0a0a0a" stroke-width="1.5"/>
<line x1="408.0" y1="572.63" x2="413.3" y2="572.63" stroke="#0a0a0a" stroke-width="1.5"/>
<line x1="408.0" y1="566.96" x2="413.3" y2="566.96" stroke="#0a0a0a" stroke-width="1.5"/>
<line x1="408.0" y1="562.56" x2="413.3" y2="562.56" stroke="#0a0a0a" stroke-width="1.5"/>
<line x1="408.0" y1="558.96" x2="413.3" y2="558.96" stroke="#0a0a0a" stroke-width="1.5"/>
<line x1="408.0" y1="555.92" x2="413.3" y2="555.92" stroke="#0a0a0a" stroke-width="1.5"/>
<line x1="408.0" y1="553.28" x2="413.3" y2="553.28" stroke="#0a0a0a" stroke-width="1.5"/>
<line x1="408.0" y1="550.96" x2="413.3" y2="550.96" stroke="#0a0a0a" stroke-width="1.5"/>
<rect x="416.54" y="379.10" width="17.00" height="68.70" fill="url(#inf)" stroke="#5aa9e6" stroke-width="0.8"/>
<line x1="416.54" y1="402.10" x2="433.54" y2="402.10" stroke="#437bf6" stroke-opacity="0.5" stroke-width="1.2"/>
<line x1="425.04" y1="594.3" x2="425.04" y2="598.5" stroke="#999" stroke-width="0.7"/>
<text x="425.04" y="616.6" font-size="15.0" text-anchor="middle">Cd</text>
<rect x="450.62" y="353.40" width="17.00" height="102.60" fill="url(#inf)" stroke="#5aa9e6" stroke-width="0.8"/>
<line x1="450.62" y1="375.40" x2="467.62" y2="375.40" stroke="#437bf6" stroke-opacity="0.5" stroke-width="1.2"/>
<line x1="459.12" y1="594.3" x2="459.12" y2="598.5" stroke="#999" stroke-width="0.7"/>
<text x="459.12" y="616.6" font-size="15.0" text-anchor="middle">Cr</text>
<rect x="484.70" y="461.20" width="17.00" height="73.40" fill="url(#inf)" stroke="#5aa9e6" stroke-width="0.8"/>
<line x1="484.70" y1="495.20" x2="501.70" y2="495.20" stroke="#437bf6" stroke-opacity="0.5" stroke-width="1.2"/>
<line x1="493.20" y1="594.3" x2="493.20" y2="598.5" stroke="#999" stroke-width="0.7"/>
<text x="493.20" y="616.6" font-size="15.0" text-anchor="middle">Cu</text>
<rect x="518.78" y="495.00" width="17.00" height="77.80" fill="url(#inf)" stroke="#5aa9e6" stroke-width="0.8"/>
<line x1="518.78" y1="542.90" x2="535.78" y2="542.90" stroke="#437bf6" stroke-opacity="0.5" stroke-width="1.2"/>
<line x1="527.28" y1="594.3" x2="527.28" y2="598.5" stroke="#999" stroke-width="0.7"/>
<text x="527.28" y="616.6" font-size="15.0" text-anchor="middle">Fe</text>
<rect x="552.87" y="450.30" width="17.00" height="55.90" fill="url(#inf)" stroke="#5aa9e6" stroke-width="0.8"/>
<line x1="552.87" y1="471.50" x2="569.87" y2="471.50" stroke="#437bf6" stroke-opacity="0.5" stroke-width="1.2"/>
<line x1="561.37" y1="594.3" x2="561.37" y2="598.5" stroke="#999" stroke-width="0.7"/>
<text x="561.37" y="616.6" font-size="15.0" text-anchor="middle">Mn</text>
<rect x="586.95" y="479.20" width="17.00" height="69.40" fill="url(#inf)" stroke="#5aa9e6" stroke-width="0.8"/>
<line x1="586.95" y1="506.70" x2="603.95" y2="506.70" stroke="#437bf6" stroke-opacity="0.5" stroke-width="1.2"/>
<line x1="595.45" y1="594.3" x2="595.45" y2="598.5" stroke="#999" stroke-width="0.7"/>
<text x="595.45" y="616.6" font-size="15.0" text-anchor="middle">Ni</text>
<rect x="621.03" y="412.60" width="17.00" height="123.80" fill="url(#inf)" stroke="#5aa9e6" stroke-width="0.8"/>
<line x1="621.03" y1="454.00" x2="638.03" y2="454.00" stroke="#437bf6" stroke-opacity="0.5" stroke-width="1.2"/>
<line x1="629.53" y1="594.3" x2="629.53" y2="598.5" stroke="#999" stroke-width="0.7"/>
<text x="629.53" y="616.6" font-size="15.0" text-anchor="middle">Pb</text>
<rect x="655.11" y="513.40" width="17.00" height="57.20" fill="url(#inf)" stroke="#5aa9e6" stroke-width="0.8"/>
<line x1="655.11" y1="541.90" x2="672.11" y2="541.90" stroke="#437bf6" stroke-opacity="0.5" stroke-width="1.2"/>
<line x1="663.61" y1="594.3" x2="663.61" y2="598.5" stroke="#999" stroke-width="0.7"/>
<text x="663.61" y="616.6" font-size="15.0" text-anchor="middle">Zn</text>
<rect x="384.8" y="344.0" width="1" height="1" fill="#000" fill-opacity="0.27"/>
<rect x="384.8" y="389.5" width="1" height="1" fill="#000" fill-opacity="0.27"/>
<rect x="384.8" y="434.9" width="1" height="1" fill="#000" fill-opacity="0.27"/>
<rect x="384.8" y="480.3" width="1" height="1" fill="#000" fill-opacity="0.27"/>
<rect x="384.8" y="525.8" width="1" height="1" fill="#000" fill-opacity="0.27"/>
<rect x="384.8" y="571.2" width="1" height="1" fill="#000" fill-opacity="0.27"/>
<rect x="430.2" y="344.0" width="1" height="1" fill="#000" fill-opacity="0.27"/>
<rect x="430.2" y="389.5" width="1" height="1" fill="#000" fill-opacity="0.27"/>
<rect x="430.2" y="434.9" width="1" height="1" fill="#000" fill-opacity="0.27"/>
<rect x="430.2" y="480.3" width="1" height="1" fill="#000" fill-opacity="0.27"/>
<rect x="430.2" y="525.8" width="1" height="1" fill="#000" fill-opacity="0.27"/>
<rect x="430.2" y="571.2" width="1" height="1" fill="#000" fill-opacity="0.27"/>
<rect x="475.7" y="344.0" width="1" height="1" fill="#000" fill-opacity="0.27"/>
<rect x="475.7" y="389.5" width="1" height="1" fill="#000" fill-opacity="0.27"/>
<rect x="475.7" y="434.9" width="1" height="1" fill="#000" fill-opacity="0.27"/>
<rect x="475.7" y="480.3" width="1" height="1" fill="#000" fill-opacity="0.27"/>
<rect x="475.7" y="525.8" width="1" height="1" fill="#000" fill-opacity="0.27"/>
<rect x="475.7" y="571.2" width="1" height="1" fill="#000" fill-opacity="0.27"/>
<rect x="521.1" y="344.0" width="1" height="1" fill="#000" fill-opacity="0.27"/>
<rect x="521.1" y="389.5" width="1" height="1" fill="#000" fill-opacity="0.27"/>
<rect x="521.1" y="434.9" width="1" height="1" fill="#000" fill-opacity="0.27"/>
<rect x="521.1" y="480.3" width="1" height="1" fill="#000" fill-opacity="0.27"/>
<rect x="521.1" y="525.8" width="1" height="1" fill="#000" fill-opacity="0.27"/>
<rect x="521.1" y="571.2" width="1" height="1" fill="#000" fill-opacity="0.27"/>
<rect x="566.5" y="344.0" width="1" height="1" fill="#000" fill-opacity="0.27"/>
<rect x="566.5" y="389.5" width="1" height="1" fill="#000" fill-opacity="0.27"/>
<rect x="566.5" y="434.9" width="1" height="1" fill="#000" fill-opacity="0.27"/>
<rect x="566.5" y="480.3" width="1" height="1" fill="#000" fill-opacity="0.27"/>
<rect x="566.5" y="525.8" width="1" height="1" fill="#000" fill-opacity="0.27"/>
<rect x="566.5" y="571.2" width="1" height="1" fill="#000" fill-opacity="0.27"/>
<rect x="612.0" y="344.0" width="1" height="1" fill="#000" fill-opacity="0.27"/>
<rect x="612.0" y="389.5" width="1" height="1" fill="#000" fill-opacity="0.27"/>
<rect x="612.0" y="434.9" width="1" height="1" fill="#000" fill-opacity="0.27"/>
<rect x="612.0" y="480.3" width="1" height="1" fill="#000" fill-opacity="0.27"/>
<rect x="612.0" y="525.8" width="1" height="1" fill="#000" fill-opacity="0.27"/>
<rect x="612.0" y="571.2" width="1" height="1" fill="#000" fill-opacity="0.27"/>
<rect x="657.4" y="344.0" width="1" height="1" fill="#000" fill-opacity="0.27"/>
<rect x="657.4" y="389.5" width="1" height="1" fill="#000" fill-opacity="0.27"/>
<rect x="657.4" y="434.9" width="1" height="1" fill="#000" fill-opacity="0.27"/>
<rect x="657.4" y="480.3" width="1" height="1" fill="#000" fill-opacity="0.27"/>
<rect x="657.4" y="525.8" width="1" height="1" fill="#000" fill-opacity="0.27"/>
<rect x="657.4" y="571.2" width="1" height="1" fill="#000" fill-opacity="0.27"/>
<text x="403.2" y="326.15" font-size="15" text-anchor="end">10</text>
<text x="403.2" y="371.57" font-size="15" text-anchor="end">1</text>
<text x="403.2" y="416.98" font-size="15" text-anchor="end">0.1</text>
<text x="403.2" y="462.40" font-size="15" text-anchor="end">0.01</text>
<text x="403.2" y="507.82" font-size="15" text-anchor="end">0.001</text>
<text x="403.2" y="553.23" font-size="15" text-anchor="end">0.0001</text>
<text x="403.2" y="598.65" font-size="15" text-anchor="end">1E-05</text>
<text x="420.6" y="347.8" font-size="21">d</text>
<text transform="translate(355.7,457.2) rotate(-90) scale(1,1)" font-size="15.2" text-anchor="middle">HQ Child (Dermal)</text></g>
</svg></body></html>
